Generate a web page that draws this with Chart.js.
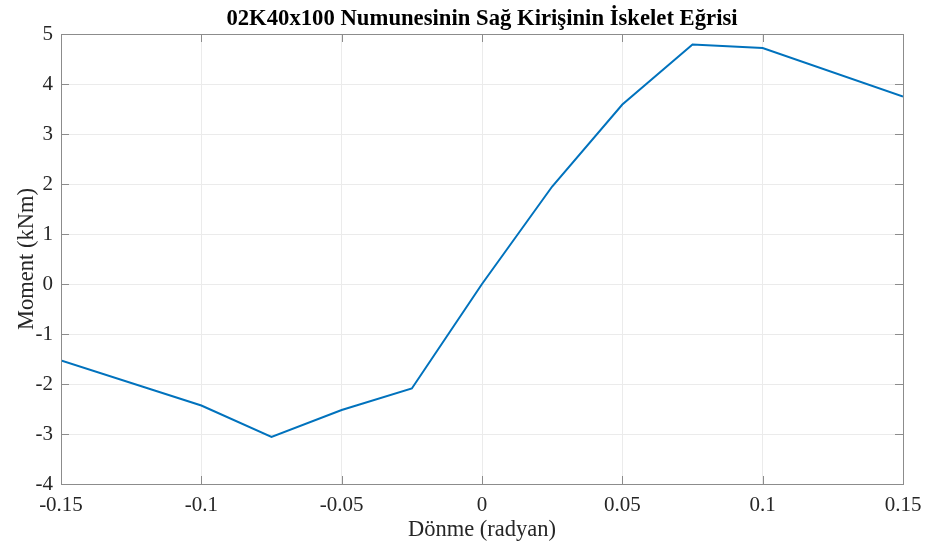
<!DOCTYPE html>
<html>
<head>
<meta charset="utf-8">
<script src="https://cdn.jsdelivr.net/npm/chart.js@4"></script>
<style>
  html, body { margin:0; padding:0; background:#fff; }
  #wrap { width:931px; height:547px; }
</style>
</head>
<body>
<div id="wrap"><canvas id="skeleton"></canvas></div>
<script>
// rotation (rad) vs. moment (kNm)
const rotation = [-0.15, -0.1, -0.075, -0.05, -0.025, 0, 0.025, 0.05, 0.075, 0.1, 0.15];
const moment   = [-1.53, -2.43, -3.06, -2.52, -2.09, 0, 1.95, 3.59, 4.79, 4.72, 3.75];

const xTicks = [-0.15, -0.1, -0.05, 0, 0.05, 0.1, 0.15];
const yTicks = [-4, -3, -2, -1, 0, 1, 2, 3, 4, 5];

const chartTitle = '02K40x100 Numunesinin Sağ Kirişinin İskelet Eğrisi';

const axisCol = '#262626';
const frameCol = '#8c8c8c';
const gridCol = '#ebebeb';
const serif = "'Liberation Serif', 'Times New Roman', serif";

Chart.defaults.font.family = serif;
Chart.defaults.color = axisCol;

// MATLAB-like box with inward tick marks, title centred over the axes
const boxPlugin = {
  id: 'box',
  afterDraw(chart) {
    const {ctx, chartArea: a, scales} = chart;
    ctx.save();
    ctx.strokeStyle = frameCol;
    ctx.lineWidth = 1;
    ctx.beginPath();
    xTicks.forEach(v => {
      const px = Math.round(scales.x.getPixelForValue(v)) + 0.5;
      ctx.moveTo(px, a.bottom); ctx.lineTo(px, a.bottom - 8);
      ctx.moveTo(px, a.top); ctx.lineTo(px, a.top + 8);
    });
    yTicks.forEach(v => {
      const py = Math.round(scales.y.getPixelForValue(v)) + 0.5;
      ctx.moveTo(a.left, py); ctx.lineTo(a.left + 8, py);
      ctx.moveTo(a.right, py); ctx.lineTo(a.right - 8, py);
    });
    ctx.stroke();
    ctx.strokeRect(Math.round(a.left) + 0.5, Math.round(a.top) + 0.5,
                   Math.round(a.right - a.left), Math.round(a.bottom - a.top));

    ctx.fillStyle = '#000';
    ctx.font = 'bold 22.7px ' + serif;
    ctx.textAlign = 'center';
    ctx.textBaseline = 'alphabetic';
    ctx.fillText(chartTitle, (a.left + a.right) / 2, 25);
    ctx.restore();
  }
};

new Chart(document.getElementById('skeleton'), {
  type: 'line',
  data: {
    datasets: [{
      data: rotation.map((r, i) => ({x: r, y: moment[i]})),
      borderColor: '#0072BD',
      borderWidth: 2,
      pointRadius: 0,
      tension: 0,
      fill: false
    }]
  },
  options: {
    responsive: true,
    maintainAspectRatio: false,
    animation: false,
    layout: { padding: {left: 14, right: 28, top: 34, bottom: 3} },
    plugins: {
      legend: {display: false},
      tooltip: {enabled: false},
      title: {display: false}
    },
    scales: {
      x: {
        type: 'linear',
        min: -0.15, max: 0.15,
        afterBuildTicks: s => { s.ticks = xTicks.map(v => ({value: v})); },
        afterFit: s => { s.height = 60; },
        ticks: {
          font: {size: 21},
          color: axisCol,
          padding: 9,
          maxRotation: 0,
          callback: v => String(Number(v.toFixed(3)))
        },
        grid: {color: gridCol, drawTicks: false},
        border: {display: false},
        title: {
          display: true,
          text: 'Dönme (radyan)',
          font: {size: 22.5},
          color: axisCol,
          padding: {top: 0, bottom: 0}
        }
      },
      y: {
        min: -4, max: 5,
        afterBuildTicks: s => { s.ticks = yTicks.map(v => ({value: v})); },
        afterFit: s => { s.width = 47; },
        ticks: {
          font: {size: 21},
          color: axisCol,
          padding: 8
        },
        grid: {color: gridCol, drawTicks: false},
        border: {display: false},
        title: {
          display: true,
          text: 'Moment (kNm)',
          font: {size: 22.5},
          color: axisCol,
          padding: {top: 0, bottom: 0}
        }
      }
    }
  },
  plugins: [boxPlugin]
});
</script>
</body>
</html>
